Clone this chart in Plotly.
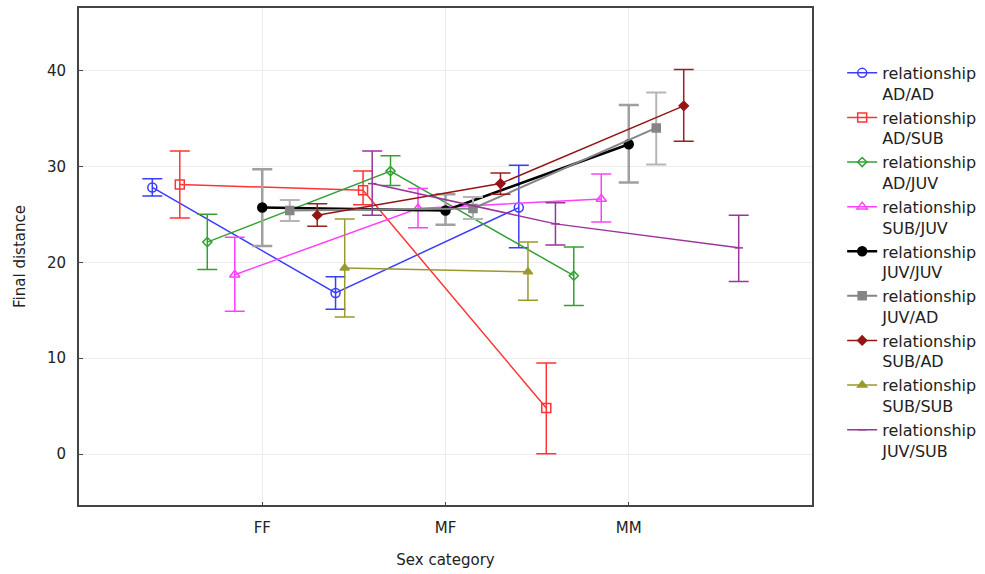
import plotly.graph_objects as go

categories = ["FF", "MF", "MM"]
cat_pos = [1, 2, 3]

series = ["AD/AD", "AD/SUB", "AD/JUV", "SUB/JUV", "JUV/JUV", "JUV/AD", "SUB/AD", "SUB/SUB", "JUV/SUB"]

mean_ad_ad = [27.8, 16.8, 25.7]
mean_ad_sub = [28.1, 27.5, 4.8]
mean_ad_juv = [22.1, 29.5, 18.6]
mean_sub_juv = [18.7, 25.6, 26.6]
mean_juv_juv = [25.7, 25.4, 32.3]
mean_juv_ad = [25.4, 25.6, 34.0]
mean_sub_ad = [24.9, 28.2, 36.3]
mean_sub_sub = [19.4, 19.0, None]
mean_juv_sub = [28.2, 24.0, 21.5]

upper_ad_ad = [28.7, 18.5, 30.1]
upper_ad_sub = [31.6, 29.5, 9.5]
upper_ad_juv = [25.0, 31.1, 21.6]
upper_sub_juv = [22.6, 27.7, 29.2]
upper_juv_juv = [29.7, 27.1, 36.4]
upper_juv_ad = [26.5, 26.8, 37.7]
upper_sub_ad = [26.1, 29.3, 40.1]
upper_sub_sub = [24.5, 22.1, None]
upper_juv_sub = [31.6, 26.2, 24.9]

lower_ad_ad = [26.9, 15.1, 21.5]
lower_ad_sub = [24.6, 26.0, 0.05]
lower_ad_juv = [19.25, 28.0, 15.5]
lower_sub_juv = [14.9, 23.6, 24.2]
lower_juv_juv = [21.7, 23.9, 28.3]
lower_juv_ad = [24.3, 24.5, 30.2]
lower_sub_ad = [23.75, 27.1, 32.6]
lower_sub_sub = [14.3, 16.05, None]
lower_juv_sub = [24.9, 21.8, 18.0]

means = [mean_ad_ad, mean_ad_sub, mean_ad_juv, mean_sub_juv, mean_juv_juv,
         mean_juv_ad, mean_sub_ad, mean_sub_sub, mean_juv_sub]
uppers = [upper_ad_ad, upper_ad_sub, upper_ad_juv, upper_sub_juv, upper_juv_juv,
          upper_juv_ad, upper_sub_ad, upper_sub_sub, upper_juv_sub]
lowers = [lower_ad_ad, lower_ad_sub, lower_ad_juv, lower_sub_juv, lower_juv_juv,
          lower_juv_ad, lower_sub_ad, lower_sub_sub, lower_juv_sub]

colors = ["#3c3cff", "#ff3535", "#34a034", "#ff40ff", "#000000",
          "#858585", "#951515", "#999930", "#9a359a"]
err_colors = ["#3c3cff", "#ff3535", "#34a034", "#ff40ff", "#a0a0a0",
              "#b5b5b5", "#9a2020", "#999930", "#9a359a"]
symbols = ["circle-open", "square-open", "diamond-open", "triangle-up-open", "circle",
           "square", "diamond", "triangle-up", "line-ew-open"]
msizes = [9, 9, 7, 9, 9, 8, 7, 8, 6]
lwidths = [1.5, 1.5, 1.5, 1.5, 2.5, 2.0, 1.5, 1.5, 1.5]
ewidths = [1.5, 1.5, 1.5, 1.5, 2.5, 2.0, 1.5, 1.5, 1.5]
offset_step = 0.15

fig = go.Figure()
n = len(series)
for i, name in enumerate(series):
    off = (i - (n - 1) / 2) * offset_step
    xs, ys, up, dn = [], [], [], []
    for c, m, u, l in zip(cat_pos, means[i], uppers[i], lowers[i]):
        if m is None:
            continue
        xs.append(c + off)
        ys.append(m)
        up.append(u - m)
        dn.append(m - l)
    fig.add_trace(go.Scatter(
        x=xs, y=ys, mode="lines+markers",
        name="relationship<br>" + name,
        legendgroup=name,
        line=dict(color=colors[i], width=lwidths[i]),
        marker=dict(symbol=symbols[i], size=msizes[i], color=colors[i],
                    line=dict(color=colors[i], width=1.5)),
        error_y=dict(type="data", symmetric=False, array=up, arrayminus=dn,
                     color=err_colors[i], thickness=ewidths[i], width=10),
    ))

font_family = "DejaVu Sans, Liberation Sans, Arial, sans-serif"
fig.update_layout(
    width=985, height=574,
    margin=dict(l=79, r=173, t=8, b=69, autoexpand=False),
    paper_bgcolor="white", plot_bgcolor="white",
    font=dict(family=font_family, size=14, color="#222222"),
    showlegend=True,
    legend=dict(xref="container", yref="container",
                x=0.855, y=0.9025, xanchor="left", yanchor="top",
                traceorder="grouped", tracegroupgap=0, valign="top",
                font=dict(size=16, color="#222222"),
                itemwidth=30, maxheight=540),
    xaxis=dict(range=[0, 4], tickvals=cat_pos, ticktext=categories,
               showgrid=True, gridcolor="#ececec", gridwidth=1,
               showline=True, linecolor="#444444", linewidth=2, mirror=True,
               ticks="inside", ticklen=3, tickcolor="#444444",
               ticklabelstandoff=8, zeroline=False,
               tickfont=dict(size=15, color="#222222"),
               title=dict(text="Sex category", standoff=18,
                          font=dict(size=15, color="#222222"))),
    yaxis=dict(range=[-5.3, 46.5], tickvals=[0, 10, 20, 30, 40],
               showgrid=True, gridcolor="#ececec", gridwidth=1,
               showline=True, linecolor="#444444", linewidth=2, mirror=True,
               ticks="inside", ticklen=4, tickcolor="#444444",
               ticklabelstandoff=8, zeroline=False,
               tickfont=dict(size=15, color="#222222"),
               title=dict(text="Final distance", standoff=18,
                          font=dict(size=15, color="#222222"))),
)

fig.write_html("out.html")
